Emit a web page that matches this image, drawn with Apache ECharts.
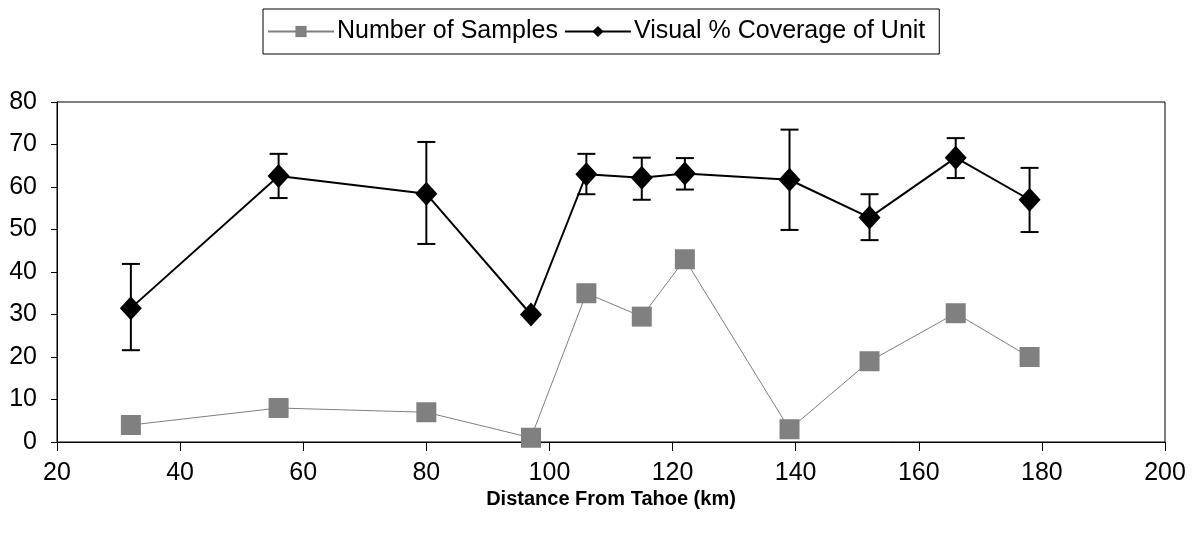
<!DOCTYPE html>
<html>
<head>
<meta charset="utf-8">
<script src="https://cdn.jsdelivr.net/npm/echarts@6/dist/echarts.min.js"></script>
<style>html,body{margin:0;padding:0;background:#fff;}#c{width:1197px;height:539px;}</style>
</head>
<body>
<div id="c"></div>
<script>
const distances = [32, 56, 80, 97, 106, 115, 122, 139, 152, 166, 178];
const sampleCounts = [4, 8, 7, 1, 35, 29.5, 43, 3, 19, 30.3, 20];
const coverage = [31.5, 62.6, 58.4, 30.0, 63.0, 62.2, 63.2, 61.7, 52.8, 66.9, 57.0];
const coverageHigh = [41.9, 67.8, 70.6, null, 67.8, 66.9, 66.8, 73.5, 58.3, 71.5, 64.5];
const coverageLow = [21.6, 57.4, 46.6, null, 58.3, 57.0, 59.4, 49.9, 47.5, 62.1, 49.4];
const xTickLabels = ['20','40','60','80','100','120','140','160','180','200'];
const yTickLabels = ['0','10','20','30','40','50','60','70','80'];

const font = 'Liberation Sans, Arial, sans-serif';
const chart = echarts.init(document.getElementById('c'), null, {renderer: 'canvas'});

const samplesData = distances.map((d, i) => [d, sampleCounts[i]]);
const coverageData = distances.map((d, i) => [d, coverage[i]]);
const errData = distances.map((d, i) => [d, coverageLow[i], coverageHigh[i]]).filter(r => r[1] != null);

chart.setOption({
  animation: false,
  backgroundColor: '#fff',
  textStyle: {fontFamily: font},
  legend: {
    data: ['Number of Samples', 'Visual % Coverage of Unit'],
    top: 9,
    left: 263,
    borderColor: '#000',
    borderWidth: 1,
    padding: [10, 14, 10, 4],
    itemGap: 6,
    itemWidth: 66,
    itemHeight: 14,
    textStyle: {fontSize: 25, color: '#000', fontFamily: font, padding: [0, 0, 0, -2]}
  },
  grid: {left: 57, right: 32, top: 102, bottom: 97, show: true, borderColor: '#000', borderWidth: 1, containLabel: false},
  xAxis: {
    type: 'value', min: 20, max: 200, interval: 20,
    name: 'Distance From Tahoe (km)', nameLocation: 'middle', nameGap: 47,
    nameMoveOverlap: false,
    nameTextStyle: {fontSize: 20, fontWeight: 'bold', color: '#000', fontFamily: font},
    axisLine: {show: true, lineStyle: {color: '#000', width: 1}},
    axisTick: {show: true, inside: false, length: 9, lineStyle: {color: '#000'}},
    axisLabel: {fontSize: 25, color: '#000', margin: 19, fontFamily: font,
      formatter: v => xTickLabels[Math.round((v - 20) / 20)] ?? ''},
    splitLine: {show: false}
  },
  yAxis: {
    type: 'value', min: 0, max: 80, interval: 10,
    axisLine: {show: true, lineStyle: {color: '#000', width: 1}},
    axisTick: {show: true, inside: false, length: 6, lineStyle: {color: '#000'}},
    axisLabel: {fontSize: 25, color: '#000', margin: 20, fontFamily: font,
      formatter: v => yTickLabels[Math.round(v / 10)] ?? ''},
    splitLine: {show: false}
  },
  series: [
    {
      name: 'Number of Samples', type: 'line', data: samplesData,
      symbol: 'rect', symbolSize: 20,
      itemStyle: {color: '#808080'},
      lineStyle: {color: '#808080', width: 1},
      z: 3
    },
    {
      name: 'Error', type: 'custom', data: errData,
      renderItem: function (params, api) {
        const x = api.value(0);
        const lo = api.coord([x, api.value(1)]);
        const hi = api.coord([x, api.value(2)]);
        const cap = 9;
        const st = {stroke: '#000', lineWidth: 2};
        return {type: 'group', children: [
          {type: 'line', shape: {x1: lo[0], y1: lo[1], x2: hi[0], y2: hi[1]}, style: st},
          {type: 'line', shape: {x1: lo[0] - cap, y1: lo[1], x2: lo[0] + cap, y2: lo[1]}, style: st},
          {type: 'line', shape: {x1: hi[0] - cap, y1: hi[1], x2: hi[0] + cap, y2: hi[1]}, style: st}
        ]};
      },
      z: 4, silent: true
    },
    {
      name: 'Visual % Coverage of Unit', type: 'line', data: coverageData,
      symbol: 'diamond', symbolSize: [22, 24],
      itemStyle: {color: '#000'},
      lineStyle: {color: '#000', width: 2},
      z: 5
    }
  ]
});
</script>
</body>
</html>
